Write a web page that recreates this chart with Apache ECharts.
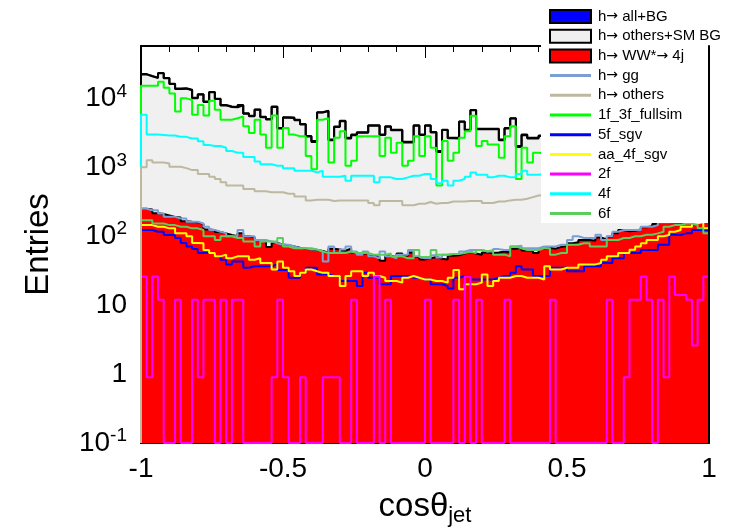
<!DOCTYPE html>
<html>
<head>
<meta charset="utf-8">
<script src="https://cdn.jsdelivr.net/npm/echarts@6/dist/echarts.min.js"></script>
<style>
html,body{margin:0;padding:0;background:#fff;}
#chart{width:734px;height:532px;}
</style>
</head>
<body>
<div id="chart"></div>
<script>
// ---- axis / binning ----
const xMin = -1, xMax = 1, nBins = 100;
const yMin = 0.1, yMax = 57500;
const xTickLabels = ['-1', '-0.5', '0', '0.5', '1'];

// ---- legend names ----
const names = ['h\u2192 all+BG', 'h\u2192 others+SM BG', 'h\u2192 WW*\u2192 4j', 'h\u2192 gg', 'h\u2192 others',
  '1f_3f_fullsim', '5f_sgv', 'aa_4f_sgv', '2f', '4f', '6f'];

// ---- series values (100 bins each) ----
const allBG = [22500,21100,20000,23300,19800,16300,13900,14000,13300,10200,11500,8970,12400,9900,8020,7600,7500,8020,6090,5600,
  6900,5400,5000,7600,3720,5300,5280,4890,4240,2850,2400,6300,6600,2530,3900,4730,2680,2980,3220,3220,
  4060,4060,2980,3930,3510,3510,2340,2340,4060,2980,4060,3260,1720,3510,2680,2680,4630,3510,6800,3630,
  3630,3630,3630,2530,3720,5160,2030,2980,2680,2680,2900,3300,2700,3600,3100,3900,3300,4200,3700,4500,
  4100,5200,4600,5600,5300,6300,6000,7100,7300,8400,8900,9900,11000,12200,13600,15100,16800,18600,20300,21500];

const othersSMBG = [22250,20855,19785,23090,19600,16110,13713,13835,13138,10040,11350,8845,12277,9785,7910,7496,7400,7910,5990,5504,
  6812,5316,4930,7520,3644,5226,5209,4822,4174,2786,2337,6239,6542,2464,3836,4668,2614,2922,3165,3163,
  4008,4010,2936,3878,3460,3454,2288,2282,4010,2934,4012,3210,1673,3464,2628,2627,4574,3452,6744,3576,
  3572,3573,3572,2470,3662,5094,1962,2918,2618,2623,2834,3232,2634,3530,3028,3821,3218,4112,3612,4414,
  4004,5110,4502,5490,5177,6182,5880,6975,7165,8260,8750,9738,10835,12030,13428,14925,16620,18418,20115,21310];

const hWW4j = [250,245,215,210,200,190,187,165,162,160,150,125,123,115,110,104,100,110,100,96,
  88,84,70,80,76,74,71,68,66,64,63,61,58,66,64,62,66,58,55,57,
  52,50,44,52,50,56,52,58,50,46,48,50,47,46,52,53,56,58,56,54,
  58,57,58,60,58,66,68,62,62,57,66,68,66,70,72,79,82,88,88,86,
  96,90,98,110,123,118,120,125,135,140,150,162,165,170,172,175,180,182,185,190];

const hgg = [251,238,238,213,191,191,181,181,162,162,153,137,123,116,110,100,100,123,100,100,
  88,88,84,79,75,75,71,67,67,64,64,60,43,71,57,64,71,60,54,60,
  51,48,60,51,48,54,54,63,51,48,48,53,49,54,55,55,60,63,63,63,
  60,60,65,63,63,71,73,67,67,67,71,71,71,75,75,88,100,94,94,94,
  105,88,100,116,123,123,123,123,137,137,145,160,160,164,164,164,168,168,175,175];

const hOthers = [1000,1265,1172,1172,1133,1016,1016,972,910,910,797,797,730,676,606,543,543,543,486,486,
  450,450,435,435,435,412,412,378,378,331,338,338,338,324,331,331,331,331,331,331,
  303,281,324,324,324,324,281,281,296,296,313,296,303,303,319,319,319,324,324,324,
  303,303,319,319,331,338,338,349,369,390,395,405,420,430,445,455,470,485,500,520,
  540,560,585,605,630,655,685,715,745,775,810,845,885,925,965,1010,1060,1110,1160,1050];

const f1f3 = [15200,15200,15200,17400,14200,11800,6460,10000,9460,5770,8020,5650,9270,6810,4890,4890,5160,5460,3930,3150,
  4890,2980,1920,5650,1920,3720,2980,2820,2820,1460,940,4890,5160,1170,2680,3330,1050,1240,2820,2820,
  2820,2820,1460,2680,1630,2270,1050,1240,2820,1460,2820,1920,543,2400,1240,1630,2680,3330,5580,2030,
  2400,2140,2140,1380,2820,3930,676,1920,1170,1630,1600,1900,1300,2200,1700,2400,1600,2600,2000,2800,
  2200,3300,2500,3600,3100,4000,3500,4600,4500,5400,5700,6500,7400,8400,9500,10800,12300,13800,15000,14000];

const f5sgv = [123,123,116,116,104,104,94,80,71,65,57,57,57,51,45.7,39,43,43,34.8,36.7,
  36.7,36.7,36.7,39,32.3,32.3,25,25,29.4,34.8,34.8,27.8,27.8,26.4,26.4,22.4,22.4,22.4,19,29.4,
  25,25,20.1,20.1,26.4,26.4,26.4,25,25,23.6,23.6,20.1,20.1,19,17.5,25,26.4,26.4,23.6,23.6,
  23.6,23.6,25,26.4,26.4,29.4,36.7,32.9,32.9,26.4,26.4,26.4,34.8,34.8,34.8,31,31,31,36.7,36.7,
  36.7,40.9,40.9,48,48,57,57,57,63,63,63,75,75,105,104,110,110,123,123,123];

const aa4f = [145,145,137,137,130,130,110,110,100,80,79,63,57,51,54,48,51,51,51,45.7,
  48,40.9,40.9,32.9,43,34.8,31,26.4,29.4,32.9,31,29.4,29.4,26.4,26.4,19,26.4,31,31,26.4,
  29.4,26.4,25,22.4,22.4,21.2,25,26.4,25,23.6,23.6,22.4,22.4,21.2,25,32.3,17,20.1,20.1,21.2,
  27.8,19,22.4,25,25,26.4,26.4,25,25,25,23.6,36.7,32.9,32.9,34.8,34.8,34.8,39,39,39,
  40.9,45.7,51,51,57,57,63.6,71,79,88,88,100,104,116,123,137,137,153,162,130];

const f2 = [26,0.9,26,12,0,0,12,0,0,12,0.9,12,12,0,12,0,12,12,0,0,
  0,0,0,0.9,12,0.9,0,0,0.9,0,0,0,0.9,0.9,0.9,0,0,12,0,0,
  0,26,0,12,0,0,0,0,0,0,12,0,0,0,0,12,0,26,0,12,
  0,0,0,0,12,0,0,0,0,0,0,0,12,0,0,0,0,0,0,0,
  0,0,12,0,0,0.9,12,12,26,12,0,12,0.9,26,14,14,12,2.6,12,26];

const f4 = [5770,2984,2984,2950,2886,2886,2763,2763,2615,2615,2394,2099,2031,2031,1922,1722,1630,1630,1413,1413,
  1211,1110,1110,1050,1050,972,972,890,890,890,843,890,730,730,730,755,640,755,755,755,
  755,606,714,714,676,676,714,755,755,797,797,676,586,640,543,640,676,730,843,779,
  779,714,755,755,714,714,797,890,779,779,790,810,820,850,870,890,920,950,990,1010,
  1060,1100,1150,1210,1260,1330,1410,1480,1580,1690,1800,1940,2100,2250,2400,2560,2700,2860,3000,5600];

const f6 = [171,171,153,153,145,145,137,137,130,130,123,100,100,88,100,100,94,94,84,84,
  71,84,84,84,94,71,67,67,67,67,64,60,57,57,57,57,60,57,57,57,
  54,54,54,56,51,51,48,48,63,50,50,63,54,54,55,55,57,59,57,63,
  60,63,54,54,51,71,67,63,63,63,67,67,54,57,57,75,75,79,79,71,
  71,71,88,88,94,94,100,100,105,105,110,116,137,145,145,153,153,145,130,110];

// ---- helpers ----
const binW = (xMax - xMin) / nBins;
function histData(vals) {
  const pts = [[xMin, yMin]];
  for (let i = 0; i < vals.length; i++) pts.push([xMin + i * binW, Math.max(vals[i], yMin)]);
  pts.push([xMax, Math.max(vals[vals.length - 1], yMin)]);
  pts.push([xMax, yMin]);
  return pts;
}
function lineSeries(name, vals, color) {
  return {
    name: name, type: 'line', step: 'end', data: histData(vals),
    symbol: 'none', showSymbol: false, color: color,
    lineStyle: {color: color, width: 2}, animation: false, silent: true
  };
}
function fillSeries(name, vals, fill) {
  return {
    name: name, type: 'line', step: 'end', data: histData(vals),
    symbol: 'none', showSymbol: false, color: fill,
    itemStyle: {color: fill},
    lineStyle: {color: '#000', width: 2},
    areaStyle: {color: fill, opacity: 1, origin: 'start'},
    animation: false, silent: true
  };
}

const lineColors = {3: '#7b9fd4', 4: '#bdb89f', 5: '#00ff00', 6: '#0000ff', 7: '#ffff00', 8: '#ff00ff', 9: '#00ffff', 10: '#5ccc5c'};
const series = [
  fillSeries(names[0], allBG, '#0000ff'),
  fillSeries(names[1], othersSMBG, '#f0f0f0'),
  fillSeries(names[2], hWW4j, '#ff0000'),
  lineSeries(names[3], hgg, lineColors[3]),
  lineSeries(names[5], f1f3, lineColors[5]),
  lineSeries(names[6], f5sgv, lineColors[6]),
  lineSeries(names[7], aa4f, lineColors[7]),
  lineSeries(names[8], f2, lineColors[8]),
  lineSeries(names[10], f6, lineColors[10]),
  lineSeries(names[9], f4, lineColors[9]),
  lineSeries(names[4], hOthers, lineColors[4])
];

function yLabel(v) {
  const e = Math.log10(v);
  const r = Math.round(e);
  if (Math.abs(e - r) > 0.01) return '';
  if (r === 0) return '{b|1}';
  if (r === 1) return '{b|10}';
  return '{b|10}{s|' + r + '}';
}
const font = 'Liberation Sans, Arial, Helvetica, sans-serif';
const lineIcon = 'path://M0,0L41,0ZM0,13L41,13ZM0,5L41,5L41,8L0,8Z';

const legendData = names.map((n, i) => {
  if (i === 0) return {name: n, icon: 'rect', itemStyle: {color: '#0000ff', borderColor: '#000', borderWidth: 2}};
  if (i === 1) return {name: n, icon: 'rect', itemStyle: {color: '#f0f0f0', borderColor: '#000', borderWidth: 2}};
  if (i === 2) return {name: n, icon: 'rect', itemStyle: {color: '#ff0000', borderColor: '#000', borderWidth: 2}};
  return {name: n, icon: lineIcon, itemStyle: {color: lineColors[i], borderWidth: 0}};
});

const chart = echarts.init(document.getElementById('chart'), null, {renderer: 'canvas'});
chart.setOption({
  backgroundColor: '#fff',
  animation: false,
  textStyle: {fontFamily: font},
  grid: {left: 141, right: 25, top: 46, bottom: 83},
  legend: {
    orient: 'vertical', left: 541, top: 0,
    data: legendData,
    backgroundColor: '#fff',
    padding: [9, 10, 2, 8],
    itemWidth: 41, itemHeight: 13, itemGap: 4.7,
    selectedMode: false,
    formatter: function (n) {
      return n.split('\u2192').map(function (p) { return '{t|' + p + '}'; }).join('{ar|\u2192}');
    },
    textStyle: {fontFamily: font, fontSize: 15, color: '#000', lineHeight: 14, padding: [0, 0, 0, 2],
      rich: {
        t: {fontFamily: font, fontSize: 15, color: '#000', lineHeight: 14},
        ar: {fontFamily: 'DejaVu Sans', fontSize: 14, color: '#000', lineHeight: 14}
      }}
  },
  xAxis: [{
    type: 'value', min: xMin, max: xMax, interval: 0.5, position: 'bottom',
    axisLine: {show: true, onZero: false, lineStyle: {color: '#000', width: 2}},
    axisTick: {show: true, inside: true, length: 12, lineStyle: {color: '#000', width: 1}},
    minorTick: {show: true, splitNumber: 5, length: 6, lineStyle: {color: '#000', width: 1}},
    splitLine: {show: false},
    axisLabel: {fontSize: 28, color: '#000', margin: 12, fontFamily: font,
      formatter: function (v) { const i = Math.round((v - xMin) / 0.5); return xTickLabels[i]; }},
    name: '{a|cos\u03b8}{b|jet}', nameLocation: 'middle', nameGap: 44,
    nameTextStyle: {color: '#000', fontFamily: font, rich: {
      a: {fontSize: 33, fontFamily: font, color: '#000'},
      b: {fontSize: 22, fontFamily: font, color: '#000', padding: [18, 0, 0, 0]}
    }}
  }, {
    type: 'value', min: xMin, max: xMax, interval: 0.5, position: 'top',
    axisLine: {show: true, onZero: false, lineStyle: {color: '#000', width: 2}},
    axisTick: {show: true, inside: true, length: 12, lineStyle: {color: '#000', width: 1}},
    minorTick: {show: true, splitNumber: 5, length: 6, lineStyle: {color: '#000', width: 1}},
    splitLine: {show: false}, axisLabel: {show: false}
  }],
  yAxis: [{
    type: 'log', logBase: 10, min: yMin, max: yMax, position: 'left',
    axisLine: {show: true, onZero: false, lineStyle: {color: '#000', width: 2}},
    axisTick: {show: true, inside: true, length: 12, lineStyle: {color: '#000'}},
    splitLine: {show: false},
    axisLabel: {color: '#000', margin: 14, fontFamily: font, formatter: yLabel,
      rich: {
        b: {fontSize: 28, fontFamily: font, color: '#000'},
        s: {fontSize: 19, fontFamily: font, color: '#000', padding: [0, 0, 14, 0]}
      }},
    name: 'Entries', nameLocation: 'middle', nameGap: 86,
    nameTextStyle: {fontSize: 33, color: '#000', fontFamily: font}
  }, {
    type: 'log', logBase: 10, min: yMin, max: yMax, position: 'right', z: 5,
    axisLine: {show: true, onZero: false, lineStyle: {color: '#000', width: 2}},
    axisTick: {show: false},
    splitLine: {show: false}, axisLabel: {show: false}
  }],
  series: series
});
</script>
</body>
</html>
